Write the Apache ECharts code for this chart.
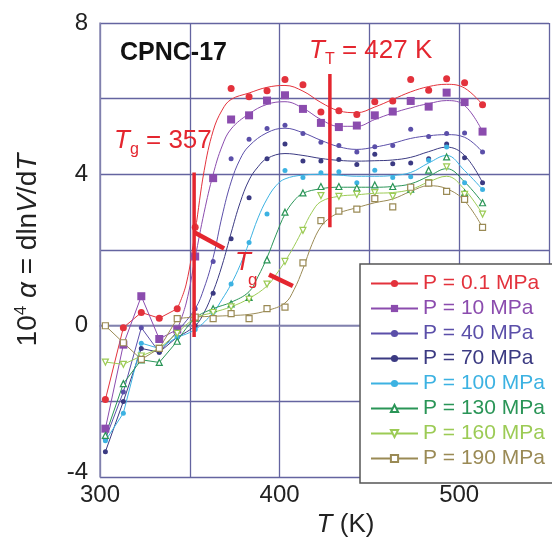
<!DOCTYPE html>
<html>
<head>
<meta charset="utf-8">
<script src="https://cdn.jsdelivr.net/npm/echarts@6/dist/echarts.min.js"></script>
<style>
  html, body { margin: 0; padding: 0; background: #fff; }
  #chart { width: 552px; height: 543px; }
</style>
</head>
<body>
<div id="chart"></div>
<script>
// Temperatures (K) at which the expansivity was evaluated
const temps = [303, 313, 323, 333, 343, 353, 363, 373, 383, 393, 403, 413, 423, 433, 443, 453, 463, 473, 483, 493, 503, 513];

// Measured 10^4 alpha for each pressure (null = no point recorded)
const p01  = [-1.95, -0.05, 0.35, 0.20, 0.45, 2.60, null, 6.27, 6.05, 6.21, 6.51, 6.37, 5.65, 5.68, 5.58, 5.92, 5.94, 6.51, 6.22, 6.53, 6.42, 5.84];
const p10  = [-2.72, -0.50, 0.78, -0.35, -0.10, 1.83, 3.90, 5.45, 5.56, 5.95, 6.09, 5.73, 5.36, 5.25, 5.29, 5.56, 5.66, 5.94, 5.79, 6.16, 5.91, 5.13];
const p40  = [-3.00, -1.75, -0.05, -0.70, -0.15, 0.45, 1.70, 4.41, 4.93, 5.21, 5.30, 5.08, 4.85, 4.76, 4.59, 4.73, 4.76, 5.19, 5.00, 5.08, 5.09, 4.59];
const p70  = [-3.33, -2.00, -0.60, -0.70, -0.30, 0.00, 0.86, 2.30, 3.38, 4.41, 4.80, 4.35, 4.35, 4.39, 4.26, 4.53, 4.28, 4.30, 4.41, 4.80, 4.44, 3.78];
const p100 = [-3.04, -2.31, -0.46, -0.60, -0.30, -0.10, 0.35, 1.10, 2.20, 2.95, 4.10, 3.92, 4.04, 4.07, 3.78, 4.11, 3.92, 3.94, 4.37, 4.72, 3.78, 3.60];
const p130 = [-2.90, -1.53, -0.90, -0.97, -0.41, 0.20, 0.45, 0.58, 0.75, 1.74, 3.00, 3.51, 3.68, 3.68, 3.64, 3.72, 3.68, 3.61, 4.11, 4.46, 3.51, 3.25];
const p160 = [-0.96, -1.02, -0.80, -0.60, -0.20, 0.20, 0.35, 0.50, 0.70, 1.10, 1.70, 2.52, 3.44, 3.42, 3.47, 3.52, 3.42, 3.55, 3.78, 4.20, 3.47, 2.95];
const p190 = [0.00, -0.45, -0.89, -0.60, 0.19, 0.23, 0.19, 0.32, 0.19, 0.45, 0.49, 1.66, 2.78, 3.03, 3.08, 3.36, 3.14, 3.66, 3.77, 3.55, 3.34, 2.60];

// Fitted curves above 343 K, as [T, 10^4 alpha]
const fit01  = [[343,0.45],[348,1.1],[353,2.5],[358,4.1],[363,5.15],[368,5.7],[373,5.98],[383,6.15],[393,6.3],[403,6.35],[413,6.2],[423,5.9],[433,5.68],[443,5.63],[453,5.78],[463,5.98],[473,6.18],[483,6.32],[493,6.38],[503,6.28],[513,5.84]];
const fit10  = [[343,-0.1],[348,0.6],[353,1.8],[358,3.0],[363,4.0],[368,4.75],[373,5.2],[383,5.6],[393,5.85],[403,5.92],[413,5.75],[423,5.45],[433,5.27],[443,5.27],[453,5.45],[463,5.62],[473,5.76],[483,5.87],[493,5.95],[503,5.82],[513,5.13]];
const fit40  = [[343,-0.15],[353,0.45],[358,1.0],[363,1.8],[368,2.9],[373,3.8],[378,4.4],[383,4.75],[393,5.1],[403,5.22],[413,5.1],[423,4.9],[433,4.73],[443,4.66],[453,4.72],[463,4.82],[473,4.95],[483,5.02],[493,5.05],[503,4.98],[513,4.59]];
const fit70  = [[343,-0.3],[353,0.0],[358,0.35],[363,0.9],[368,1.6],[373,2.45],[378,3.25],[383,3.85],[388,4.2],[393,4.42],[403,4.55],[413,4.5],[423,4.42],[433,4.37],[443,4.35],[453,4.36],[463,4.38],[473,4.45],[483,4.6],[493,4.72],[503,4.5],[513,3.78]];
const fit100 = [[343,-0.3],[353,-0.1],[363,0.35],[368,0.7],[373,1.1],[378,1.6],[383,2.2],[388,2.85],[393,3.35],[398,3.7],[403,3.88],[413,3.98],[423,4.0],[433,3.98],[443,3.95],[453,3.95],[463,3.97],[473,4.05],[483,4.3],[493,4.5],[503,4.1],[513,3.6]];
const fit130 = [[343,-0.41],[353,0.2],[363,0.45],[373,0.62],[383,0.9],[388,1.3],[393,1.8],[398,2.4],[403,2.95],[408,3.3],[413,3.5],[423,3.62],[433,3.66],[443,3.66],[453,3.66],[463,3.68],[473,3.75],[483,3.95],[493,4.15],[503,3.8],[513,3.25]];
const fit160 = [[343,-0.2],[353,0.2],[363,0.35],[373,0.5],[383,0.72],[393,1.05],[398,1.35],[403,1.7],[408,2.1],[413,2.55],[418,3.0],[423,3.28],[433,3.42],[443,3.46],[453,3.5],[463,3.52],[473,3.6],[483,3.8],[493,3.95],[503,3.6],[513,2.95]];
const fit190 = [[343,0.19],[353,0.23],[363,0.25],[373,0.27],[383,0.3],[393,0.4],[403,0.6],[408,0.95],[413,1.5],[418,2.15],[423,2.62],[428,2.85],[433,2.98],[443,3.12],[453,3.25],[463,3.35],[473,3.55],[483,3.7],[493,3.62],[503,3.3],[513,2.6]];

const seriesNames = ['P = 0.1 MPa', 'P = 10 MPa', 'P = 40 MPa', 'P = 70 MPa',
                     'P = 100 MPa', 'P = 130 MPa', 'P = 160 MPa', 'P = 190 MPa'];
const seriesValues = [p01, p10, p40, p70, p100, p130, p160, p190];
const seriesFits = [fit01, fit10, fit40, fit70, fit100, fit130, fit160, fit190];

// Below this temperature neighbouring points are joined by straight segments
const fitFrom = 343;

// Axis ticks
const xTicks = [300, 400, 500];
const yTicks = [-4, 0, 4, 8];

// Transition markers (T, 10^4 alpha)
const tgLine  = [[352.4, 4.05], [352.4, -0.30]];
const ttLine  = [[428.0, 6.65], [428.0, 2.60]];
const tgBar1  = [[352.4, 2.47], [369.1, 2.04]];
const tgBar2  = [[394.1, 1.35], [407.4, 1.05]];

const colors = ['#e3323c', '#8b4cae', '#5b4fa9', '#3b3a82', '#3cb2e2', '#2a9557', '#9ccb55', '#9a8a55'];
const symbols = ['circle', 'rect', 'circle', 'circle', 'circle', 'triangle', 'triangle', 'rect'];
const symSizes = [7, 8, 5, 5, 5, 6, 6, 6];
const hollow = [false, false, false, false, false, true, true, true];
const rotations = [0, 0, 0, 0, 0, 0, 180, 0];
const FONT = 'Liberation Sans, Arial, sans-serif';
const RED = '#e4262f';
const INK = '#222222';

const chart = echarts.init(document.getElementById('chart'), null, { renderer: 'canvas' });

const markStyle = k => (hollow[k]
  ? { color: '#ffffff', borderColor: colors[k], borderWidth: 1.2, opacity: 1 }
  : { color: colors[k], borderWidth: 0, opacity: 1 });

const series = [];
seriesValues.forEach((vals, k) => {
  const pts = temps.map((t, i) => [t, vals[i]]).filter(d => d[1] !== null);
  // low-temperature points joined by straight segments
  series.push({
    name: seriesNames[k], type: 'line', smooth: false,
    data: pts.filter(d => d[0] <= fitFrom),
    symbol: symbols[k], symbolSize: symSizes[k], symbolRotate: rotations[k],
    showSymbol: true,
    lineStyle: { color: colors[k], width: 1 },
    itemStyle: markStyle(k),
    emphasis: { disabled: true }, z: 4
  });
  // remaining measured points
  series.push({
    name: seriesNames[k], type: 'scatter',
    data: pts.filter(d => d[0] > fitFrom),
    symbol: symbols[k], symbolSize: symSizes[k], symbolRotate: rotations[k],
    itemStyle: markStyle(k),
    emphasis: { disabled: true }, z: 4
  });
  // fitted curve
  series.push({
    name: seriesNames[k], type: 'line', smooth: 0.4,
    data: seriesFits[k], showSymbol: false, symbol: 'none',
    lineStyle: { color: colors[k], width: 1 },
    emphasis: { disabled: true }, silent: true, z: 3
  });
});

const markerLine = (pts, w) => ({
  type: 'line',
  data: pts,
  symbol: 'none',
  silent: true,
  lineStyle: { color: RED, width: w },
  z: 5
});
series.push(markerLine(tgLine, 3.5), markerLine(ttLine, 3.5), markerLine(tgBar1, 4.5), markerLine(tgBar2, 4.5));

const option = {
  animation: false,
  textStyle: { fontFamily: FONT },
  grid: { left: 100, top: 23, width: 464, height: 464, containLabel: false },
  xAxis: {
    type: 'value', min: 300, max: 550, interval: 50,
    name: '{i|T} (K)',
    nameLocation: 'middle', nameGap: 27,
    nameTextStyle: {
      fontSize: 26, color: INK, padding: [0, 0, 0, 42],
      rich: { i: { fontSize: 26, fontStyle: 'italic', color: INK } }
    },
    axisLine: { show: true, lineStyle: { color: '#8a8ab2', width: 1.5 } },
    axisTick: { show: false },
    axisLabel: {
      fontSize: 24, color: INK, margin: 6,
      formatter: v => (xTicks.includes(v) ? String(v) : '')
    },
    splitLine: { show: true, lineStyle: { color: '#6464a0', width: 1.3 } }
  },
  yAxis: {
    type: 'value', min: -4, max: 8, interval: 2,
    name: '{n|10}{sup|4}{n| }{i|α}{n| = dln}{i|V}{n|/d}{i|T}',
    nameLocation: 'middle', nameRotate: 90, nameGap: 56,
    nameTextStyle: {
      color: INK,
      rich: {
        n: { fontSize: 28, color: INK },
        i: { fontSize: 28, color: INK, fontStyle: 'italic' },
        sup: { fontSize: 17, color: INK, padding: [0, 0, 14, 0] }
      }
    },
    axisLine: { show: true, lineStyle: { color: '#8a8ab2', width: 1.5 } },
    axisTick: { show: false },
    axisLabel: {
      fontSize: 24, color: INK, margin: 12,
      formatter: v => {
        if (!yTicks.includes(v)) return '';
        return v === -4 ? '{lo|' + v + '}' : String(v);
      },
      rich: { lo: { fontSize: 24, color: INK, padding: [0, 0, 10, 0] } }
    },
    splitLine: { show: true, lineStyle: { color: '#6464a0', width: 1.3 } }
  },
  legend: {
    data: seriesNames.map((n, k) => ({ name: n, textStyle: { color: colors[k] } })),
    orient: 'vertical',
    left: 360, top: 264,
    padding: [9, 40, 14, 10],
    itemWidth: 47, itemHeight: 9, itemGap: 4,
    backgroundColor: '#ffffff',
    borderColor: '#555555', borderWidth: 1.5,
    textStyle: { fontSize: 21, lineHeight: 21, fontFamily: FONT },
    selectedMode: false
  },
  graphic: [
    { type: 'text', left: 120, top: 41, z: 10,
      style: { text: 'CPNC-17', font: 'bold 25px ' + FONT, fill: '#111' } },
    { type: 'text', left: 309, top: 38, z: 10,
      style: {
        text: '{i|T}{s|T}{n| = 427 K}',
        rich: {
          i: { font: 'italic 26px ' + FONT, fill: RED },
          s: { font: '16px ' + FONT, fill: RED, padding: [18, 0, 0, 0] },
          n: { font: '26px ' + FONT, fill: RED }
        }
      } },
    { type: 'text', left: 114, top: 128, z: 10,
      style: {
        text: '{i|T}{s|g}{n| = 357}',
        rich: {
          i: { font: 'italic 26px ' + FONT, fill: RED },
          s: { font: '16px ' + FONT, fill: RED, padding: [18, 0, 0, 0] },
          n: { font: '26px ' + FONT, fill: RED }
        }
      } },
    { type: 'text', left: 235, top: 250, z: 10,
      style: { text: 'T', font: 'italic 26px ' + FONT, fill: RED } },
    { type: 'text', left: 248, top: 272, z: 10,
      style: { text: 'g', font: '17px ' + FONT, fill: RED } }
  ],
  series: series
};

chart.setOption(option);
</script>
</body>
</html>
